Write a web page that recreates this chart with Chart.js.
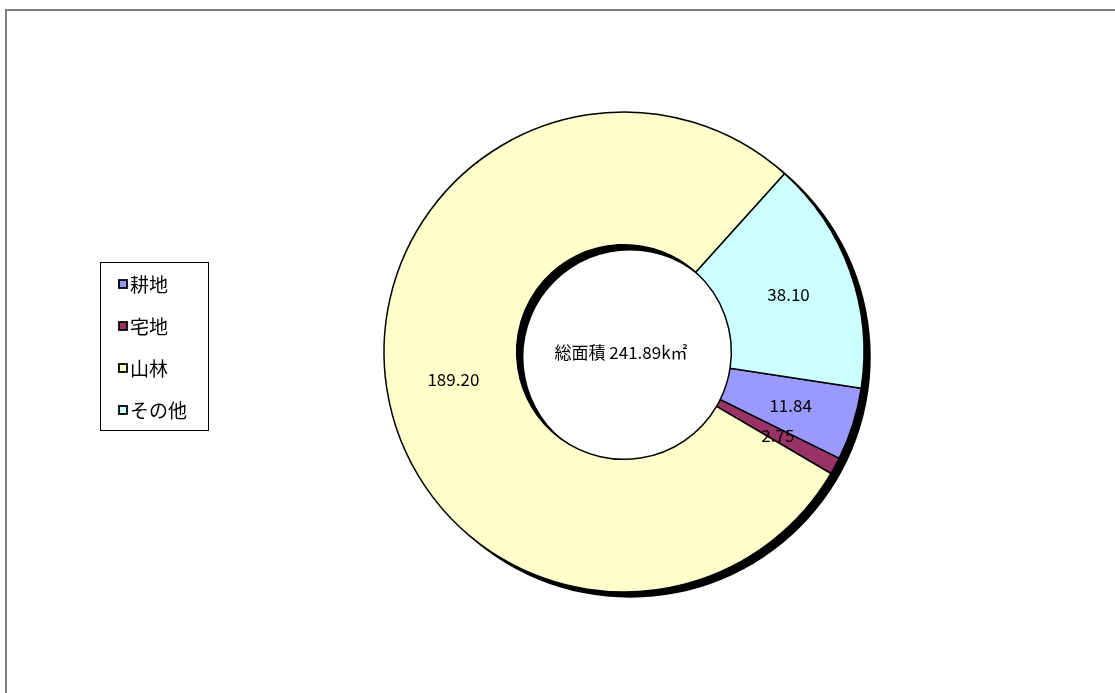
<!DOCTYPE html>
<html>
<head>
<meta charset="utf-8">
<script src="https://cdn.jsdelivr.net/npm/chart.js@4/dist/chart.umd.min.js"></script>
<style>
  html, body { margin: 0; padding: 0; background: #fff; overflow: hidden; }
  #wrap { position: relative; width: 1115px; height: 693px; }
</style>
</head>
<body>
<div id="wrap"><canvas id="c" width="1115" height="693"></canvas></div>
<script>
// 地目別面積 (km²)
const categories = ['耕地', '宅地', '山林', 'その他'];
const areas = [11.84, 2.75, 189.20, 38.10];
const sliceColors = ['#9999FF', '#993366', '#FFFFCC', '#CCFFFF'];
const centerPrefix = '総面積 ';
const centerUnit = 'k㎡';

const JP_FONT = '"Noto Sans CJK JP", "Noto Sans", sans-serif';

// grey frame around the drawing area
const framePlugin = {
  id: 'frame',
  beforeDraw(chart) {
    const ctx = chart.ctx;
    ctx.save();
    ctx.fillStyle = '#fff';
    ctx.fillRect(0, 0, chart.width, chart.height);
    ctx.strokeStyle = '#7f7f7f';
    ctx.lineWidth = 2;
    ctx.strokeRect(6, 10, chart.width + 50, chart.height + 50);
    ctx.restore();
  }
};

// solid black drop shadow under the ring
const shadowPlugin = {
  id: 'ringShadow',
  beforeDatasetsDraw(chart) {
    const meta = chart.getDatasetMeta(0);
    if (!meta.data.length) return;
    const { x, y, outerRadius, innerRadius } = meta.data[0].getProps(['x', 'y', 'outerRadius', 'innerRadius'], true);
    const dx = 6, dy = 5;
    const ctx = chart.ctx;
    ctx.save();
    ctx.fillStyle = '#000';
    ctx.beginPath();
    ctx.arc(x + dx, y + dy, outerRadius + 0.75, 0, Math.PI * 2, false);
    ctx.arc(x + dx, y + dy, innerRadius - 0.75, 0, Math.PI * 2, true);
    ctx.closePath();
    ctx.fill('evenodd');
    ctx.restore();
  }
};

// value labels in the middle of each slice and the total in the hole
const labelPlugin = {
  id: 'sliceLabels',
  afterDatasetsDraw(chart) {
    const meta = chart.getDatasetMeta(0);
    const ctx = chart.ctx;
    const values = chart.data.datasets[0].data;
    ctx.save();
    ctx.fillStyle = '#000';
    ctx.textAlign = 'center';
    ctx.textBaseline = 'middle';
    ctx.font = '17px ' + JP_FONT;
    meta.data.forEach((arc, i) => {
      const p = arc.tooltipPosition(true);
      ctx.fillText(values[i].toFixed(2), p.x + 1, p.y + 1);
    });
    const c = meta.data[0].getProps(['x', 'y'], true);
    const total = values.reduce((a, b) => a + b, 0);
    ctx.font = '17px ' + JP_FONT;
    ctx.fillText(centerPrefix + total.toFixed(2) + centerUnit, c.x - 3, c.y + 1);
    ctx.restore();
  }
};

// boxed legend on the left
const boxLegendPlugin = {
  id: 'boxLegend',
  afterDraw(chart) {
    const ctx = chart.ctx;
    const labels = chart.data.labels;
    const colors = chart.data.datasets[0].backgroundColor;
    const bx = 100.5, by = 262.5, bw = 108, bh = 168;
    ctx.save();
    ctx.fillStyle = '#fff';
    ctx.fillRect(bx, by, bw, bh);
    ctx.strokeStyle = '#000';
    ctx.lineWidth = 1;
    ctx.strokeRect(bx, by, bw, bh);
    ctx.font = '19px ' + JP_FONT;
    ctx.textBaseline = 'middle';
    ctx.textAlign = 'left';
    const rowY = [284, 326, 368, 410];
    labels.forEach((lab, i) => {
      const y = rowY[i];
      ctx.fillStyle = colors[i];
      ctx.fillRect(119, y - 4, 8, 8);
      ctx.lineWidth = 1.8;
      ctx.strokeStyle = '#000';
      ctx.strokeRect(119, y - 4, 8, 8);
      ctx.fillStyle = '#000';
      ctx.fillText(lab, 130, y + 1);
    });
    ctx.restore();
  }
};

new Chart(document.getElementById('c'), {
  type: 'doughnut',
  data: {
    labels: categories,
    datasets: [{
      data: areas,
      backgroundColor: sliceColors,
      borderColor: '#000',
      borderWidth: 1.5,
      hoverOffset: 0
    }]
  },
  options: {
    responsive: false,
    animation: false,
    rotation: 98.7,
    radius: 240,
    cutout: 107,
    layout: { padding: { left: 384, right: 251, top: 112, bottom: 101 } },
    plugins: {
      legend: { display: false },
      tooltip: { enabled: false },
      title: { display: false }
    }
  },
  plugins: [framePlugin, shadowPlugin, labelPlugin, boxLegendPlugin]
});
</script>
</body>
</html>
